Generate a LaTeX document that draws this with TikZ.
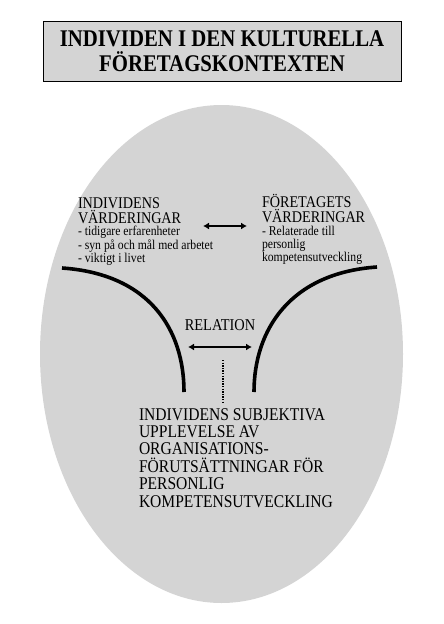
\documentclass[tikz,border=0pt]{standalone}
\usepackage{fontspec}
\setmainfont{Liberation Serif}[BoldFont={Liberation Serif Bold}, FakeStretch=0.87]
\usetikzlibrary{arrows.meta,positioning,calc}

\begin{document}
\begin{tikzpicture}[
  x=1pt, y=-1pt,
  every node/.style={inner sep=0pt, outer sep=0pt},
  titlebox/.style={fill=black!17, draw=black, line width=1pt,
                   font=\bfseries\fontsize{23.9}{25}\selectfont, align=center},
  oval/.style    ={fill=black!17, draw=none},
  funnel/.style  ={draw=black, line width=3.6pt},
  twoway/.style  ={{Latex[length=6pt,width=7pt]}-{Latex[length=6pt,width=7pt]},
                   line width=1.8pt},
  head/.style    ={font=\fontsize{16.3}{15}\selectfont, align=left, anchor=base west},
  bullets/.style ={font=\fontsize{13.45}{12.6}\selectfont, align=left, anchor=base west},
  verdict/.style ={font=\fontsize{17.9}{17.4}\selectfont, align=left, anchor=base west}]

\useasboundingbox (0,0) rectangle (444,624);

% ===========================  title  =================================
\node[titlebox, minimum width=358pt, minimum height=60pt] (title) at (222,51)
  {INDIVIDEN I DEN KULTURELLA\\FÖRETAGSKONTEXTEN};

% ===========================  the oval  ==============================
\fill[oval] (221.5,354) ellipse [x radius=181.5, y radius=249];

% the two walls of the funnel
\draw[funnel] (62,268) .. controls (150,274) and (184,330) .. (184,392);
\draw[funnel] (377,267) .. controls (290,273) and (254,330) .. (254,392);

% ===========================  values  ================================
% (base anchor of a multi-line node sits on its last line)
\node[head]    (indhead) at (78,223)  {INDIVIDENS\\VÄRDERINGAR};
\node[bullets] (indlist) at (78,262)
  {- tidigare erfarenheter\\- syn på och mål med arbetet\\- viktigt i livet};

\node[head]    (fhead) at (262,222) {FÖRETAGETS\\VÄRDERINGAR};
\node[bullets] (flist) at (262,261)
  {- Relaterade till\\personlig\\kompetensutveckling};

\coordinate (vl) at (203,226);
\coordinate (vr) at (247,226);
\draw[twoway] (vl) -- (vr);

% ===========================  relation  ==============================
\node[font=\fontsize{16.55}{16}\selectfont, anchor=base] (relation) at (220,330.5) {RELATION};
\coordinate (rl) at (188,347);
\coordinate (rr) at (252,347);
\draw[twoway] (rl) -- (rr);

\coordinate (dtop) at (223,360);
\coordinate (dbot) at (223,402);
\draw[line width=1.3pt, dash pattern=on 1.3pt off 1.3pt] (dtop) -- (dbot);

\node[verdict] (upplevelse) at (139,507)
  {INDIVIDENS SUBJEKTIVA\\UPPLEVELSE AV\\ORGANISATIONS-\\FÖRUTSÄTTNINGAR FÖR\\PERSONLIG\\KOMPETENSUTVECKLING};

\end{tikzpicture}
\end{document}
